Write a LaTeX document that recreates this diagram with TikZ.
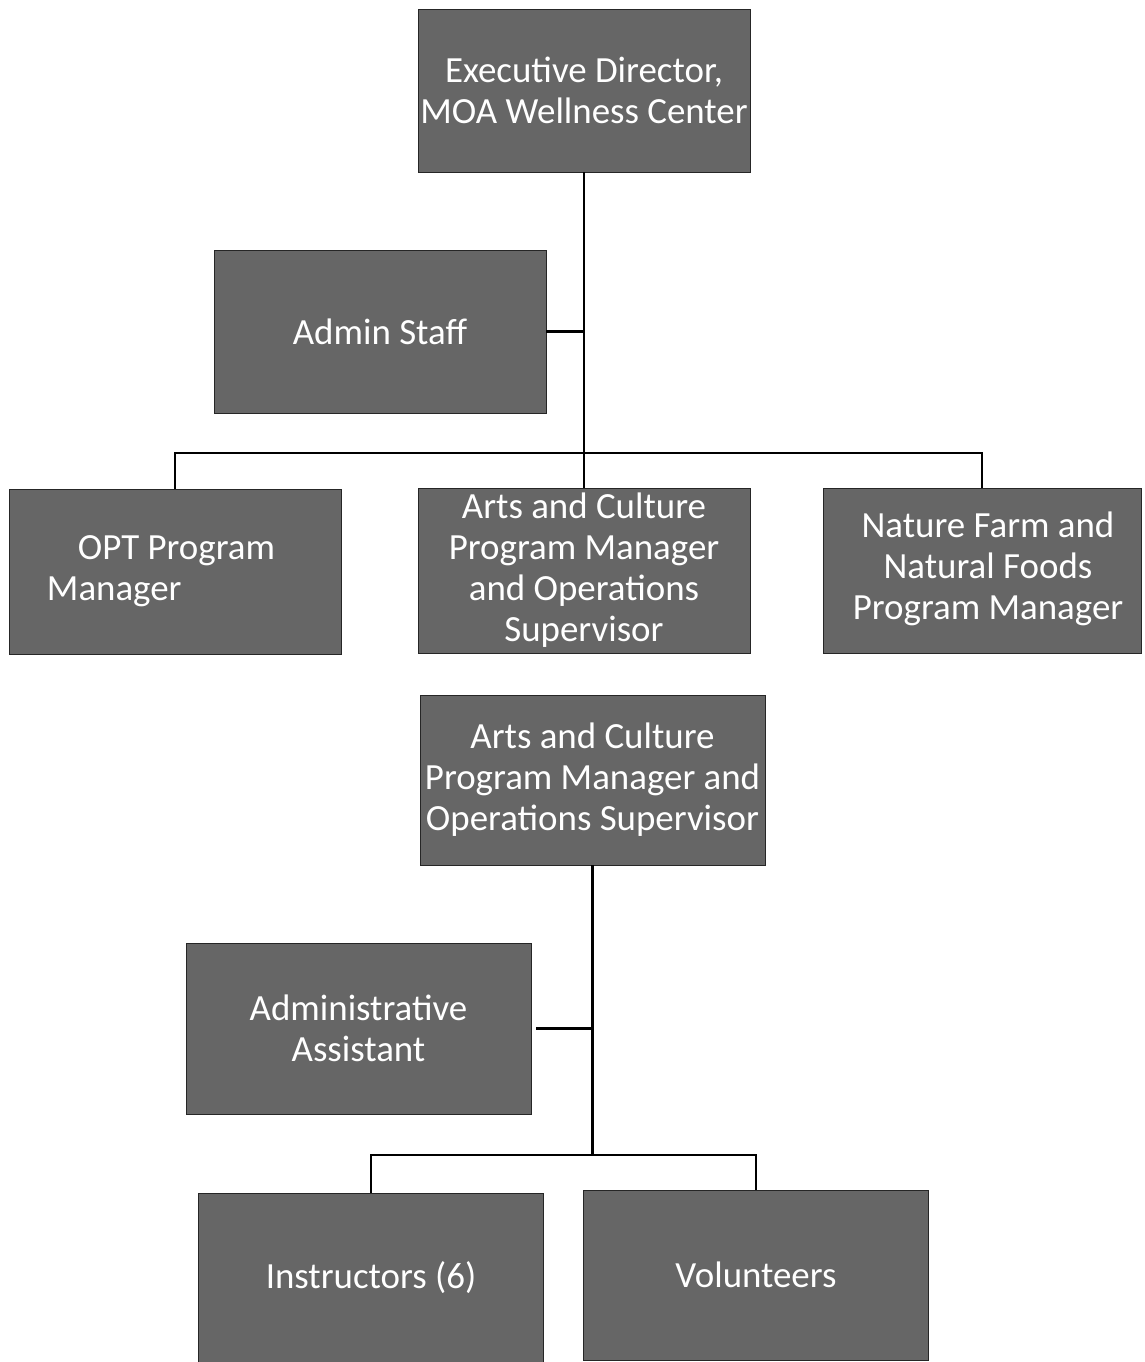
\documentclass[tikz,border=0pt]{standalone}
\usepackage{fontspec}
\setmainfont{Carlito}
\usetikzlibrary{positioning}
\tikzset{orgbox/.style={draw=black!85, fill=black!60, text=white, align=center, inner sep=0pt,
           font=\fontsize{21}{23.3}\selectfont},
         link/.style={black, line width=1.6pt}}

\begin{document}
\begin{tikzpicture}
  \useasboundingbox (0,0) rectangle (22.88,-27.24);
  % upper chart
  \begin{scope}
   \node[orgbox, minimum width=6.64cm, minimum height=3.26cm] (exec) at (11.68,-1.81) {Executive Director,\\MOA Wellness Center};
   \node[orgbox, minimum width=6.64cm, minimum height=3.26cm] (admin) at (7.60,-6.63) {Admin Staff};
   \node[orgbox, minimum width=6.64cm, minimum height=3.30cm] (opt) at (3.50,-11.43) {\begin{tabular}{@{}l@{}}\hspace*{0.62cm}OPT Program\\Manager\end{tabular}\hspace*{0.56cm}};
   \node[orgbox, minimum width=6.64cm, minimum height=3.30cm] (arts) at (11.68,-11.41) {Arts and Culture\\Program Manager\\and Operations\\Supervisor};
   \node[orgbox, minimum width=6.36cm, minimum height=3.30cm] (nature) at (19.64,-11.41) {\hspace*{0.24cm}\begin{tabular}{@{}c@{}}Nature Farm and\\Natural Foods\\Program Manager\end{tabular}};
   \coordinate (hub) at (11.68,-9.06);
   \draw[link] (exec.south) -- (arts.north);
   \draw[link] (admin.east) -- (admin.east -| exec.south);
   \draw[link] (opt.north) -- (opt.north |- hub) -- (nature.north |- hub) -- (nature.north);
  \end{scope}
  % lower chart
  \begin{scope}
   \node[orgbox, minimum width=6.90cm, minimum height=3.40cm] (artsmgr) at (11.85,-15.60) {Arts and Culture\\Program Manager and\\Operations Supervisor};
   \node[orgbox, minimum width=6.90cm, minimum height=3.42cm] (assist) at (7.17,-20.57) {Administrative\\Assistant};
   \node[orgbox, minimum width=6.90cm, minimum height=3.38cm] (instr) at (7.42,-25.55) {Instructors (6)};
   \node[orgbox, minimum width=6.90cm, minimum height=3.40cm] (vol) at (15.12,-25.50) {Volunteers};
   \coordinate (hub2) at (11.85,-23.10);
   \draw[link] (artsmgr.south) -- (hub2);
   \draw[link] ([xshift=0.1cm]assist.east) -- (assist.east -| hub2);
   \draw[link] (instr.north) -- (instr.north |- hub2) -- (vol.north |- hub2) -- (vol.north);
  \end{scope}
\end{tikzpicture}
\end{document}
